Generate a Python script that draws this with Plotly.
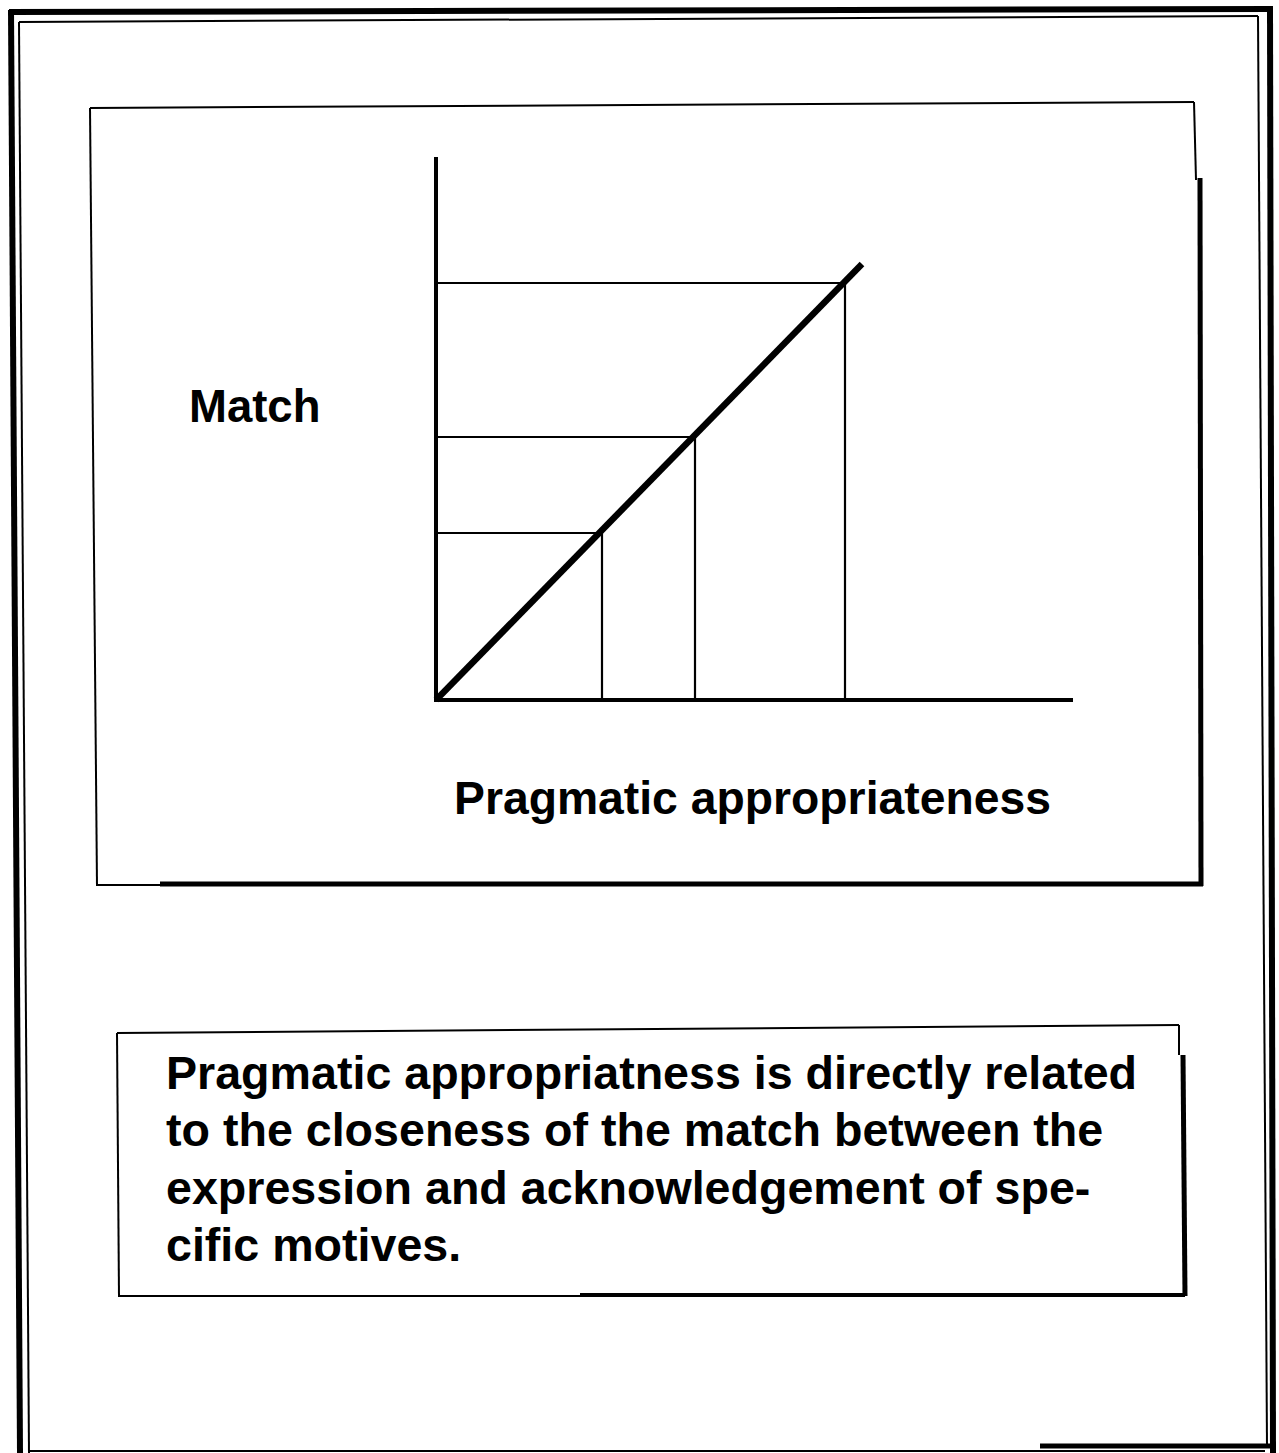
import plotly.graph_objects as go

W, H = 1279, 1453

# Diagram values (arbitrary units, origin at the axes corner)
appropriateness_levels = [1.66, 2.59, 4.09]   # x of the three guide points
match_levels = [1.67, 2.63, 4.17]             # y of the three guide points
diagonal_x = [0.0, 4.26]
diagonal_y = [0.0, 4.36]
x_axis_end = 6.37
y_axis_end = 5.43

x_label = "Pragmatic appropriateness"
y_label = "Match"
caption_lines = [
    "Pragmatic appropriatness is directly related",
    "to the closeness of the match between the",
    "expression and acknowledgement of spe-",
    "cific motives.",
]

# Pixel placement of the axes origin and scale (px per unit)
ORIGIN_PX = (436, 700)
SCALE = 100.0

FONT = dict(family="Liberation Sans, Arial, Helvetica, sans-serif", color="black", weight="bold")


def px_x(x):
    return x / W


def px_y(y):
    return 1 - y / H


fig = go.Figure()

# Axes
fig.add_trace(go.Scatter(x=[0, 0, x_axis_end], y=[y_axis_end, 0, 0], mode="lines",
                         line=dict(color="black", width=4), hoverinfo="skip"))

# Guide lines: horizontal from the y axis, vertical down to the x axis
for ax_val, m_val in zip(appropriateness_levels, match_levels):
    fig.add_trace(go.Scatter(x=[0, ax_val, ax_val], y=[m_val, m_val, 0], mode="lines",
                             line=dict(color="black", width=2.2), hoverinfo="skip"))

# Diagonal relation
fig.add_trace(go.Scatter(x=diagonal_x, y=diagonal_y, mode="lines",
                         line=dict(color="black", width=6.5), hoverinfo="skip"))

shapes = []


def line(x0, y0, x1, y1, w):
    shapes.append(dict(type="line", xref="paper", yref="paper",
                       x0=px_x(x0), y0=px_y(y0), x1=px_x(x1), y1=px_y(y1),
                       line=dict(color="black", width=w)))


# Outer page frame (thick) and inner frame (thin)
line(11, 10, 20, 1453, 6)
line(9, 12, 1273, 9, 6)
line(1270, 8, 1273, 1453, 6)
line(1040, 1446, 1272, 1446, 5)
line(19, 22, 29, 1453, 2)
line(19, 22, 1258, 16, 2)
line(1258, 16, 1267, 1445, 2)
line(29, 1451, 1265, 1451, 2)

# Chart panel with drop shadow
line(90, 108, 97, 886, 2)
line(90, 108, 1194, 102, 2)
line(1194, 102, 1196, 180, 2)
line(97, 885, 160, 885, 2)
line(160, 884, 1203, 884, 5)
line(1200, 178, 1201, 886, 5)

# Caption panel with drop shadow
line(117, 1033, 119, 1297, 2)
line(117, 1033, 1179, 1025, 2)
line(1179, 1025, 1179, 1055, 2)
line(1183, 1055, 1185, 1296, 5)
line(119, 1296, 580, 1296, 2)
line(580, 1295, 1185, 1295, 4)

annotations = [
    dict(text=y_label, x=px_x(187), y=px_y(406), xref="paper", yref="paper",
         xanchor="left", yanchor="middle", showarrow=False, font=dict(size=45.5, **FONT)),
    dict(text=x_label, x=px_x(452), y=px_y(798), xref="paper", yref="paper",
         xanchor="left", yanchor="middle", showarrow=False, font=dict(size=46.3, **FONT)),
]
for i, t in enumerate(caption_lines):
    annotations.append(dict(text=t, x=px_x(164), y=px_y(1073 + 57.3 * i), xref="paper", yref="paper",
                            xanchor="left", yanchor="middle", showarrow=False,
                            font=dict(size=46.6, **FONT)))

ox, oy = ORIGIN_PX
fig.update_layout(
    width=W, height=H,
    margin=dict(l=0, r=0, t=0, b=0),
    paper_bgcolor="white", plot_bgcolor="white",
    showlegend=False,
    xaxis=dict(visible=False, range=[-ox / SCALE, (W - ox) / SCALE], domain=[0, 1], fixedrange=True),
    yaxis=dict(visible=False, range=[-(H - oy) / SCALE, oy / SCALE], domain=[0, 1], fixedrange=True),
    shapes=shapes,
    annotations=annotations,
)

fig.write_html("out.html", config={"displayModeBar": False})
